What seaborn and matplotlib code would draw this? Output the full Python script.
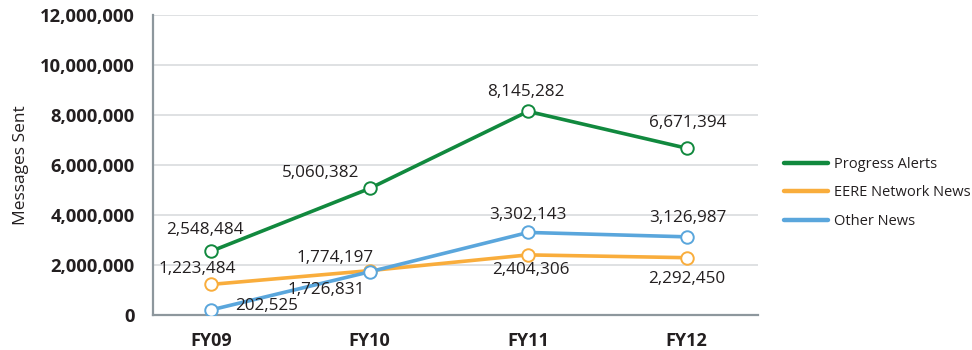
import matplotlib
matplotlib.use("Agg")
import matplotlib.pyplot as plt
from matplotlib.lines import Line2D
from matplotlib.ticker import FuncFormatter, FixedLocator
import seaborn as sns
import pandas as pd

# Fiscal years and messages sent per list
years = ["FY09", "FY10", "FY11", "FY12"]
progress_alerts = [2548484, 5060382, 8145282, 6671394]
eere_network_news = [1223484, 1774197, 2404306, 2292450]
other_news = [202525, 1726831, 3302143, 3126987]
series_names = ["Progress Alerts", "EERE Network News", "Other News"]

colors = {"Progress Alerts": "#11893e",
          "EERE Network News": "#f9ad3c",
          "Other News": "#5aa6dc"}

# label offsets (pixels) for each value label, per series
label_offsets = {
    "Progress Alerts": [(-6, 21), (-49, 15), (-2, 19), (1, 25)],
    "EERE Network News": [(-14, 15), (-35, 13), (3, -15), (0, -21)],
    "Other News": [(56, 4), (-43, -18), (0, 17), (1, 19)],
}

df = pd.DataFrame({
    "year": years * 3,
    "messages": progress_alerts + eere_network_news + other_news,
    "series": [s for s in series_names for _ in years],
})

sns.set_theme(style="white")
plt.rcParams["font.family"] = ["Open Sans", "DejaVu Sans"]

fig = plt.figure(figsize=(9.72, 3.5), dpi=100)
ax = fig.add_axes([153 / 972, 35 / 350, (758 - 153) / 972, 300 / 350])

sns.lineplot(data=df, x="year", y="messages", hue="series",
             palette=colors, hue_order=series_names, sort=False,
             linewidth=2.6, marker="o", markersize=9,
             markerfacecolor="white", markeredgewidth=1.4,
             legend=False, ax=ax, zorder=3)

# marker edges in series colour
for line, name in zip(ax.lines, series_names):
    line.set_markeredgecolor(colors[name])

# value labels
for name, vals in zip(series_names, [progress_alerts, eere_network_news, other_news]):
    for i, v in enumerate(vals):
        dx, dy = label_offsets[name][i]
        ax.annotate(f"{v:,}", (i, v), xytext=(dx, dy), textcoords="offset pixels",
                    ha="center", va="center", fontsize=12.3, color="#231f20",
                    zorder=4)

ax.set_ylim(0, 12_000_000)
ax.set_xlim(-0.366, 3.45)
ax.yaxis.set_major_locator(FixedLocator(range(0, 12_000_001, 2_000_000)))
ax.yaxis.set_major_formatter(FuncFormatter(lambda v, p: f"{int(v):,}"))
ax.grid(axis="y", color="#d9dcde", linewidth=1.2, zorder=0)
ax.set_axisbelow(True)

spine_color = "#8d979d"
for s in ["top", "right"]:
    ax.spines[s].set_visible(False)
for s in ["left", "bottom"]:
    ax.spines[s].set_color(spine_color)
    ax.spines[s].set_linewidth(1.6)

ax.tick_params(axis="y", which="major", length=5, width=1.4, color=spine_color,
               pad=8, labelsize=13.2, labelcolor="#231f20")
for lbl in ax.get_yticklabels():
    lbl.set_fontweight("bold")

ax.set_xticks(range(len(years)))
ax.set_xticklabels(years)
ax.tick_params(axis="x", which="major", length=0, pad=12, labelsize=13,
               labelcolor="#231f20")
for lbl in ax.get_xticklabels():
    lbl.set_fontweight("bold")
ax.set_xticks([-0.366, 0.5, 1.5, 2.5, 3.45], minor=True)
ax.tick_params(axis="x", which="minor", length=5, width=1.4, color=spine_color,
               direction="out")

ax.set_xlabel("")
ax.set_ylabel("Messages Sent", fontsize=12.5, color="#231f20", labelpad=8)

handles = [Line2D([0], [0], color=colors[n], linewidth=3.2) for n in series_names]
fig.legend(handles, series_names, loc="center left",
           bbox_to_anchor=(771 / 972, 1 - 193 / 350), frameon=False,
           fontsize=10.5, handlelength=3.0, handletextpad=0.4, labelspacing=0.9,
           labelcolor="#231f20")

fig.savefig("out.png", dpi=100)
